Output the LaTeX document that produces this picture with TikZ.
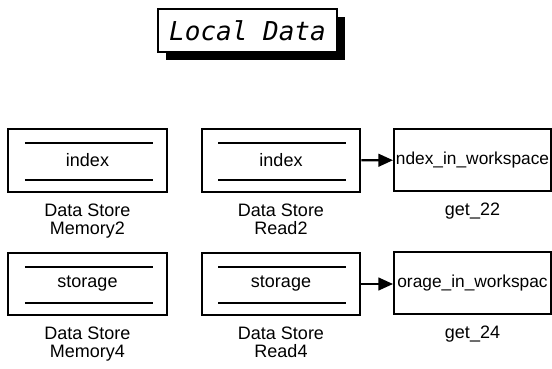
\documentclass[tikz,border=0pt]{standalone}
\usepackage{fontspec}
\setmainfont{Liberation Sans}
\newfontfamily\monofont{DejaVu Sans Mono}
\usetikzlibrary{arrows.meta,positioning,shadows}

\tikzset{
  blockfont/.style={font=\fontsize{13.5}{13.5}\selectfont},
  store/.style={draw, line width=1.7pt, minimum width=119pt, minimum height=47pt,
    inner sep=0pt, blockfont,
    path picture={
      \draw[line width=1.7pt]
        ([shift={(12.5pt,-10.5pt)}]path picture bounding box.north west)
        -- ([shift={(-10.5pt,-10.5pt)}]path picture bounding box.north east);
      \draw[line width=1.7pt]
        ([shift={(12.5pt,9pt)}]path picture bounding box.south west)
        -- ([shift={(-10.5pt,9pt)}]path picture bounding box.south east);
    }},
  getbox/.style={draw, line width=1.7pt, minimum width=117.5pt, minimum height=46.5pt,
    inner sep=0pt, blockfont},
  lbl/.style={inner sep=0pt, align=center, blockfont},
  wire/.style={line width=1.7pt, -{Triangle[length=11pt,width=9.5pt]}},
}

\begin{document}
\begin{tikzpicture}[x=0.75pt,y=-0.75pt]
  \useasboundingbox (0,0) rectangle (552,368);

  % title
  \node[draw, fill=white, line width=1.7pt, minimum width=134pt, minimum height=32pt,
        font=\monofont\itshape\fontsize{19.5}{20}\selectfont,
        drop shadow={shadow xshift=6pt, shadow yshift=-6pt, fill=black, opacity=1}]
        (title) at (247.5,30.5) {Local Data};

  % data store blocks
  \node[store] (mem2) at (87.5,160.5) {index};
  \node[store] (read2) at (281,160.5) {index};
  \node[store] (mem4) at (87.5,284) {storage};
  \node[store] (read4) at (281,284) {storage};

  % workspace blocks
  \node[getbox, font=\fontsize{13}{13}\selectfont] (get22) at (472.5,160) {ndex\_in\_workspace};
  \node[getbox, font=\fontsize{13}{13}\selectfont] (get24) at (472.5,283) {orage\_in\_workspac};

  % names
  \node[lbl, below=8pt of mem2] (mem2name) {Data Store\\Memory2};
  \node[lbl, below=8pt of read2] (read2name) {Data Store\\Read2};
  \node[lbl, below=8pt of get22] (get22name) {get\_22};
  \node[lbl, below=8pt of mem4] (mem4name) {Data Store\\Memory4};
  \node[lbl, below=8pt of read4] (read4name) {Data Store\\Read4};
  \node[lbl, below=8pt of get24] (get24name) {get\_24};

  % connections
  \draw[wire] (read2) -- (get22);
  \draw[wire] (read4.east) -- (read4.east -| get24.west);
\end{tikzpicture}
\end{document}
